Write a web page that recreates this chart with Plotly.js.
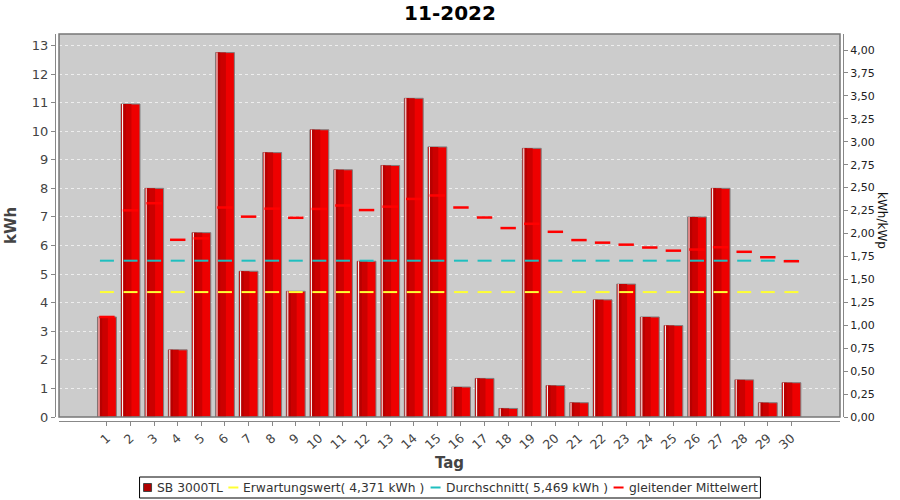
<!DOCTYPE html>
<html>
<head>
<meta charset="utf-8">
<script src="https://cdn.plot.ly/plotly-3.0.1.min.js"></script>
<style>html,body{margin:0;padding:0;background:#fff;}#chart{width:900px;height:500px;}</style>
</head>
<body>
<div id="chart"></div>
<script>
// ---- data ----
const days = [1,2,3,4,5,6,7,8,9,10,11,12,13,14,15,16,17,18,19,20,21,22,23,24,25,26,27,28,29,30];
const tickLabels = days.map(String);
const yieldKWh = [3.5,10.95,8.0,2.35,6.45,12.75,5.1,9.25,4.4,10.05,8.65,5.45,8.8,11.15,9.45,1.05,1.35,0.3,9.4,1.1,0.5,4.1,4.65,3.5,3.2,7.0,8.0,1.3,0.5,1.2];
const movingAvg = [3.5,7.23,7.48,6.2,6.25,7.33,7.01,7.29,6.97,7.28,7.4,7.24,7.36,7.63,7.75,7.33,6.98,6.61,6.76,6.48,6.19,6.1,6.03,5.93,5.82,5.86,5.94,5.78,5.59,5.45];
const expectation = 4.371;
const average = 5.469;
const kWp = 3.21;
const leftMax = 13.4;
const seriesNames = ["SB 3000TL","Erwartungswert( 4,371 kWh )","Durchschnitt( 5,469 kWh )","gleitender Mittelwert"];
const seriesColors = ["#b00000","#ffff33","#1fbfbf","#ff0000"];

const font = "DejaVu Sans, Verdana, sans-serif";

// ---- plot geometry (pixels) ----
const W = 900, H = 500, ML = 55, MR = 57, MT = 34, MB = 79;
const PW = W - ML - MR, PH = H - MT - MB;
const px2x = px => (px - ML) / PW;
const py2y = py => (H - MB - py) / PH;

const traces = [
  {type:'bar', x:days, y:yieldKWh, name:seriesNames[0], width:0.8, offset:-0.4, showlegend:false,
   marker:{color:'#ee0000', line:{color:'#7f7f7f', width:1}}, hoverinfo:'x+y'},
  {type:'bar', x:days, y:yieldKWh, showlegend:false, width:0.42, offset:-0.38,
   marker:{color:'#cc0000', line:{width:0}}, hoverinfo:'skip'},
  {type:'bar', x:days, y:yieldKWh, showlegend:false, width:0.18, offset:-0.38,
   marker:{color:'#b80000', line:{width:0}}, hoverinfo:'skip'},
  {type:'bar', x:days, y:yieldKWh, showlegend:false, width:0.045, offset:-0.36,
   marker:{color:'#ffffff', line:{width:0}}, hoverinfo:'skip'},
  {type:'scatter', mode:'markers', x:days, y:days.map(()=>expectation), name:seriesNames[1], showlegend:false,
   marker:{symbol:'line-ew', size:10, line:{color:seriesColors[1], width:2}}},
  {type:'scatter', mode:'markers', x:days, y:days.map(()=>average), name:seriesNames[2], showlegend:false,
   marker:{symbol:'line-ew', size:10, line:{color:seriesColors[2], width:2}}},
  {type:'scatter', mode:'markers', x:days, y:movingAvg, name:seriesNames[3], showlegend:false,
   marker:{symbol:'line-ew', size:11, line:{color:seriesColors[3], width:2.5}}},
  {type:'scatter', mode:'markers', x:[days[0]], y:[0], yaxis:'y2', showlegend:false,
   marker:{opacity:0}, hoverinfo:'skip'}
];

// ---- legend drawn as shapes + text, laid out from measured text widths ----
const legendFontSize = 12.3;
const ctx = document.createElement('canvas').getContext('2d');
ctx.font = legendFontSize + 'px "DejaVu Sans"';
const symW = [8, 10, 10, 10];
const gapSymText = 4, gapItems = 7, pad = 4;
const textW = seriesNames.map(t => ctx.measureText(t).width);
let total = pad * 2;
seriesNames.forEach((t, i) => { total += symW[i] + gapSymText + textW[i] + (i < seriesNames.length - 1 ? gapItems : 0); });
const boxL = W / 2 - total / 2, boxR = W / 2 + total / 2, boxT = 477, boxB = 498, midY = (boxT + boxB) / 2;
const legendShapes = [{type:'rect', xref:'paper', yref:'paper', x0:px2x(boxL), x1:px2x(boxR), y0:py2y(boxB), y1:py2y(boxT),
                       line:{color:'#000', width:1}, fillcolor:'#fff'}];
const legendAnnots = [];
let cx = boxL + pad;
seriesNames.forEach((t, i) => {
  if (i === 0) {
    legendShapes.push({type:'rect', xref:'paper', yref:'paper', x0:px2x(cx), x1:px2x(cx + symW[i]),
      y0:py2y(midY + 4), y1:py2y(midY - 4), line:{color:'#444', width:1}, fillcolor:seriesColors[i]});
  } else {
    legendShapes.push({type:'line', xref:'paper', yref:'paper', x0:px2x(cx), x1:px2x(cx + symW[i]),
      y0:py2y(midY), y1:py2y(midY), line:{color:seriesColors[i], width:2}});
  }
  cx += symW[i] + gapSymText;
  legendAnnots.push({text:t, xref:'paper', yref:'paper', x:px2x(cx), y:py2y(midY), xanchor:'left', yanchor:'middle',
    showarrow:false, font:{family:font, size:legendFontSize, color:'#333'}, borderpad:0});
  cx += textW[i] + gapItems;
});

const layout = {
  width:W, height:H,
  margin:{l:ML, r:MR, t:MT, b:MB, autoexpand:false},
  paper_bgcolor:'#ffffff',
  plot_bgcolor:'#cccccc',
  separators:',.',
  barmode:'overlay',
  showlegend:false,
  font:{family:font, size:12, color:'#444'},
  title:{text:'<b>11-2022</b>', x:0.5, xanchor:'center', y:0.974, yanchor:'middle', yref:'container',
         font:{family:font, size:20, color:'#000'}},
  xaxis:{domain:[0.0051,0.9962], range:[-1.03,32.06], anchor:'free', position:0, automargin:false,
         tickvals:days, ticktext:tickLabels, tickangle:-42,
         showgrid:false, zeroline:false, showline:true, linecolor:'#888', linewidth:1,
         ticks:'outside', ticklen:4, tickcolor:'#888',
         tickfont:{family:font, size:12.5, color:'#444'},
         title:{text:'<b>Tag</b>', font:{family:font, size:15, color:'#444'}, standoff:6}},
  yaxis:{domain:[0.0103,1], range:[0,leftMax], anchor:'free', position:0, dtick:1, automargin:false,
         showgrid:true, gridcolor:'#eeeeee', griddash:'dot', gridwidth:1, zeroline:false,
         showline:true, linecolor:'#888', linewidth:1, ticks:'outside', ticklen:4, tickcolor:'#888',
         tickfont:{family:font, size:13, color:'#444'},
         title:{text:'<b>kWh</b>', font:{family:font, size:15, color:'#444'}, standoff:10}},
  yaxis2:{overlaying:'y', side:'right', anchor:'free', position:1, range:[0, leftMax/kWp], automargin:false,
          dtick:0.25, tickformat:'.2f', showgrid:false, zeroline:false,
          showline:true, linecolor:'#888', linewidth:1, ticks:'outside', ticklen:4, tickcolor:'#888',
          tickfont:{family:font, size:11, color:'#222'}},
  shapes:[{type:'rect', xref:'x domain', yref:'y domain', x0:0, x1:1, y0:0, y1:1,
           line:{color:'#777', width:1.5}, fillcolor:'rgba(0,0,0,0)', layer:'above'}].concat(legendShapes),
  annotations:[{text:'kWh/kWp', textangle:90, xref:'paper', yref:'paper', x:px2x(882), y:py2y(221),
                xanchor:'center', yanchor:'middle', showarrow:false,
                font:{family:font, size:12, color:'#111'}}].concat(legendAnnots)
};

Plotly.newPlot('chart', traces, layout, {staticPlot:true, displayModeBar:false});
</script>
</body>
</html>
